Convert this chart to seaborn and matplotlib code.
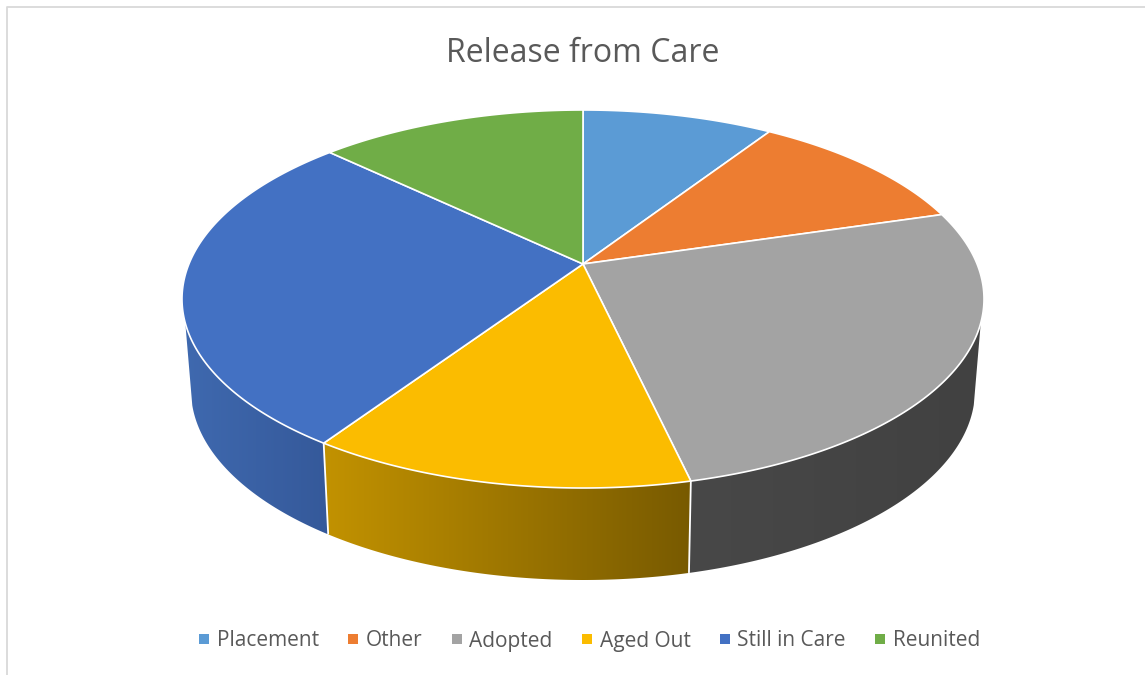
import numpy as np
import matplotlib
matplotlib.use("Agg")
import matplotlib.pyplot as plt
from matplotlib.colors import LinearSegmentedColormap
from matplotlib.lines import Line2D
from matplotlib.patches import Polygon
import seaborn as sns

categories = ["Placement", "Other", "Adopted", "Aged Out", "Still in Care", "Reunited"]
shares = [9.2, 11.2, 26.0, 13.0, 27.7, 12.9]
top_colors = ["#5B9BD5", "#ED7D31", "#A3A3A3", "#FBBC00", "#4371C3", "#70AD47"]
wall_left = ["#5B9BD5", "#ED7D31", "#484848", "#C29200", "#3F69AF", "#70AD47"]
wall_right = ["#5B9BD5", "#ED7D31", "#414141", "#785A00", "#35599A", "#70AD47"]

sns.set_theme(style="white")
plt.rcParams["font.family"] = ["Open Sans", "DejaVu Sans"]

# pixel geometry of the tilted disc
CX, TOP_CY, TOP_RX, TOP_RY = 583.0, 299.0, 401.0, 189.0
BOT_CY, BOT_RX, BOT_RY = 390.0, 392.0, 190.0
APEX = (TOP_CY - 264.0) / TOP_RY
S = np.sqrt(1 - APEX ** 2)
TOP_SIL, BOT_SIL = np.radians(-7.3), np.radians(-4.5)
COS_K = np.cos(BOT_SIL) / np.cos(TOP_SIL)


def project(clock):
    """Clock angle on the disc -> normalised ellipse coordinates (perspective)."""
    u, v = np.sin(clock), np.cos(clock)
    d = 1 + APEX * v
    return u * S / d, (v + APEX) / d


def top_xy(X, Y):
    return CX + TOP_RX * X, TOP_CY - TOP_RY * Y


def rim_points(p):
    """Ellipse parameter on the top rim -> matching top and bottom rim points."""
    pb = -np.arccos(np.clip(np.cos(p) * COS_K, -1, 1))
    tx, ty = top_xy(np.cos(p), np.sin(p))
    return tx, ty, CX + BOT_RX * np.cos(pb), BOT_CY - BOT_RY * np.sin(pb)


LO, HI = -np.pi - TOP_SIL, TOP_SIL


def wall_polygon(t0, t1):
    ts = np.linspace(t0, t1, 800)
    X, Y = project(ts)
    phi = np.arctan2(Y, X)
    keep = (phi <= HI) & (phi >= LO)
    if not keep.any():
        return None
    p = np.linspace(phi[keep].max(), phi[keep].min(), 200)
    tx, ty, bx, by = rim_points(p)
    return np.r_[np.c_[tx, ty], np.c_[bx, by][::-1]]


fig = plt.figure(figsize=(11.45, 6.75), dpi=100)
ax = fig.add_axes([0, 0, 1, 1])
ax.set_axis_off()

edges = np.radians(np.r_[0, np.cumsum(shares)] * 360 / np.sum(shares))

# side walls
for i in range(len(shares)):
    poly = wall_polygon(edges[i], edges[i + 1])
    if poly is None:
        continue
    patch = Polygon(poly, closed=True, facecolor="none", edgecolor="none", transform=ax.transData)
    ax.add_patch(patch)
    cmap = LinearSegmentedColormap.from_list("w", [wall_left[i], wall_right[i]])
    x0, x1 = poly[:, 0].min(), poly[:, 0].max()
    y0, y1 = poly[:, 1].min(), poly[:, 1].max()
    im = ax.imshow(np.linspace(0, 1, 256)[None, :], cmap=cmap, extent=[x0, x1, y1, y0],
                   aspect="auto", zorder=2, interpolation="bilinear")
    im.set_clip_path(patch)

# separators between visible walls
for t in edges:
    X, Y = project(np.array([t]))
    phi = np.arctan2(Y, X)[0]
    if LO < phi < HI:
        tx, ty, bx, by = rim_points(phi)
        ax.plot([tx, bx], [ty, by], color="white", lw=1.3, zorder=3, solid_capstyle="butt")

# top faces
apex_xy = top_xy(0.0, APEX)
for i, color in enumerate(top_colors):
    ts = np.linspace(edges[i], edges[i + 1], 200)
    X, Y = project(ts)
    tx, ty = top_xy(X, Y)
    pts = np.r_[[apex_xy], np.c_[tx, ty]]
    ax.add_patch(Polygon(pts, closed=True, facecolor=color, edgecolor="white",
                         lw=1.2, zorder=4, joinstyle="round"))

# chart frame
ax.plot([7, 7, 1145], [675, 7, 7], color="#D9D9D9", lw=1.3, zorder=1)

ax.set_xlim(0, 1145)
ax.set_ylim(675, 0)

ax.text(583, 53.5, "Release from Care", ha="center", va="center", fontsize=23, color="#595959")

handles = [Line2D([], [], ls="none", marker="s", ms=6.5, mfc=c, mew=0, label=n)
           for n, c in zip(categories, top_colors)]
ax.legend(handles=handles, ncol=6, loc="center", bbox_to_anchor=(589 / 1145, 1 - 641 / 675),
          frameon=False, fontsize=15, labelcolor="#595959", handlelength=0.6,
          handletextpad=0.3, columnspacing=1.35, borderpad=0)

fig.savefig("out.png", dpi=100, facecolor="white")
